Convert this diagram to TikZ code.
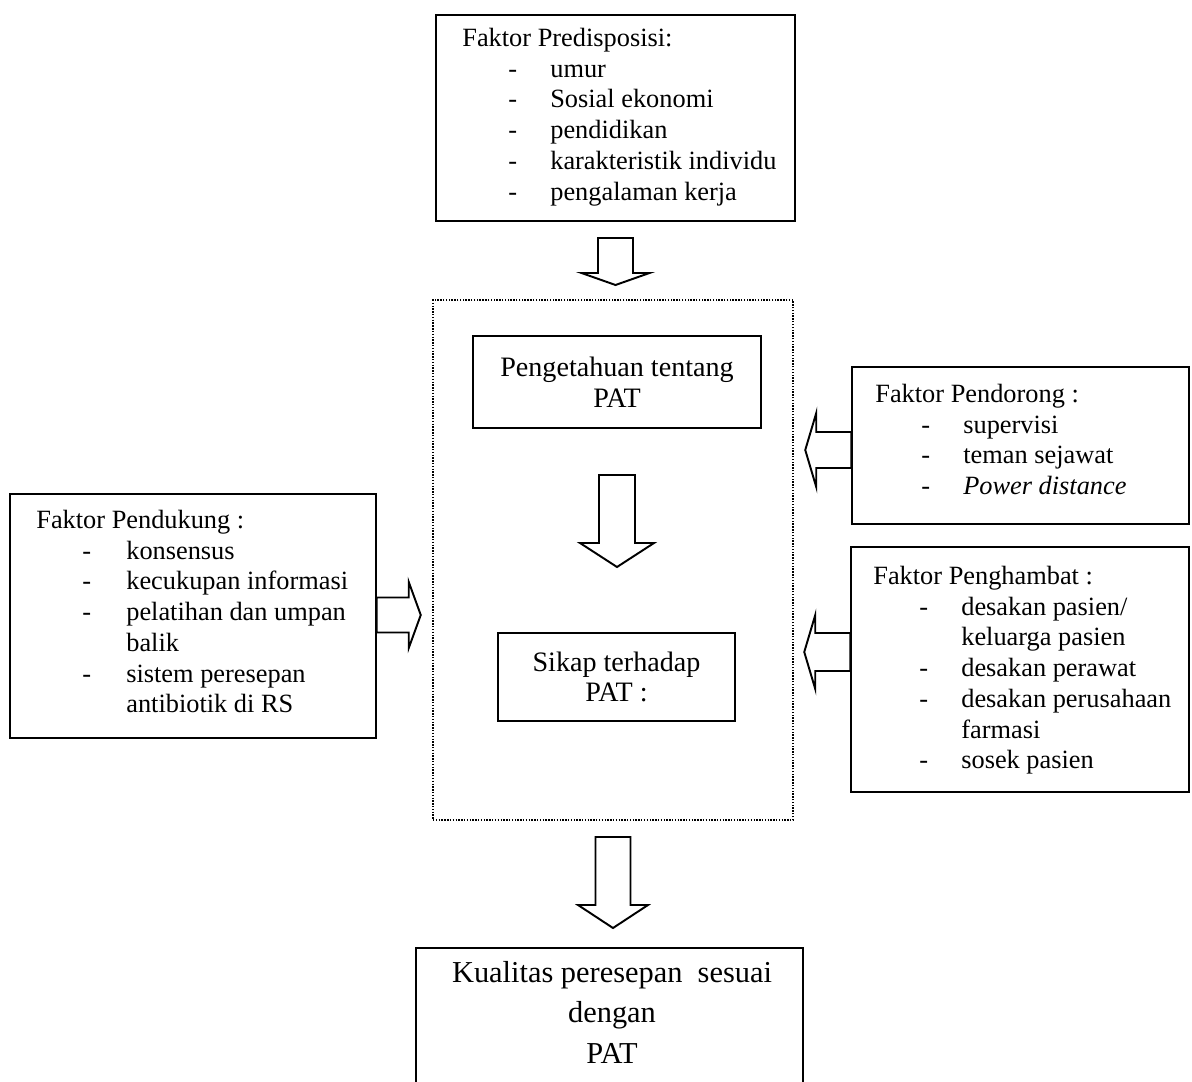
\documentclass[tikz,border=0pt]{standalone}
\usepackage{fontspec}
\setmainfont{Liberation Serif}
\usetikzlibrary{positioning}

\newcommand{\listfont}{\fontsize{15pt}{17.5pt}\selectfont}
\newcommand{\midfont}{\fontsize{16pt}{17.5pt}\selectfont}
\newcommand{\kualfont}{\fontsize{17.3pt}{23pt}\selectfont}

\tikzset{
  box/.style={rectangle, draw=black, line width=0.9pt, inner sep=0pt},
  dotbox/.style={rectangle, draw=black, line width=0.7pt, dash pattern=on 0.8pt off 0.8pt, inner sep=0pt},
  listtext/.style={anchor=north west, inner sep=0pt, font=\listfont},
  boxtext/.style={align=center, font=\midfont},
  hollow/.style={draw=black, line width=1.1pt, line join=miter},
}

% panah blok kosong: titik awal, sudut, panjang, panjang kepala, setengah batang, setengah kepala
\newcommand{\blockarrow}[6]{%
  \begin{scope}[shift={#1}, rotate=#2]
    \draw[hollow] (0,-#5) -- ({#3-#4},-#5) -- ({#3-#4},-#6) -- (#3,0) -- ({#3-#4},#6) -- ({#3-#4},#5) -- (0,#5) -- cycle;
  \end{scope}}

\begin{document}
\begin{tikzpicture}[x=0.02cm, y=-0.02cm]
\useasboundingbox (0,0) rectangle (1192,1081);

% kotak faktor
\node (pre) [box, minimum width=7.18cm, minimum height=4.12cm] at (615.5,118) {};
\node (pretext) [listtext] at (462,24.4) {\begin{tabular}{@{\hspace{0.92cm}}p{0.84cm}@{}l@{}}
\multicolumn{2}{@{}l@{}}{Faktor Predisposisi:}\\
- & umur\\
- & Sosial ekonomi\\
- & pendidikan\\
- & karakteristik individu\\
- & pengalaman kerja
\end{tabular}};

\node (pendorong) [box, minimum width=6.74cm, minimum height=3.14cm] at (1020.5,445.5) {};
\node (pendorongtext) [listtext] at (875,380.4) {\begin{tabular}{@{\hspace{0.92cm}}p{0.84cm}@{}l@{}}
\multicolumn{2}{@{}l@{}}{Faktor Pendorong :}\\
- & supervisi\\
- & teman sejawat\\
- & \textit{Power distance}
\end{tabular}};

\node (penghambat) [box, minimum width=6.76cm, minimum height=4.9cm] at (1020,669.5) {};
\node (penghambattext) [listtext] at (873,562.4) {\begin{tabular}{@{\hspace{0.92cm}}p{0.84cm}@{}l@{}}
\multicolumn{2}{@{}l@{}}{Faktor Penghambat :}\\
- & desakan pasien/\\
  & keluarga pasien\\
- & desakan perawat\\
- & desakan perusahaan\\
  & farmasi\\
- & sosek pasien
\end{tabular}};

\node (pendukung) [box, minimum width=7.32cm, minimum height=4.88cm] at (193,616) {};
\node (pendukungtext) [listtext] at (36,506.4) {\begin{tabular}{@{\hspace{0.92cm}}p{0.88cm}@{}l@{}}
\multicolumn{2}{@{}l@{}}{Faktor Pendukung :}\\
- & konsensus\\
- & kecukupan informasi\\
- & pelatihan dan umpan\\
  & balik\\
- & sistem peresepan\\
  & antibiotik di RS
\end{tabular}};

% kotak tengah
\node (tengah) [dotbox, minimum width=7.2cm, minimum height=10.4cm] at (613,560) {};
\node (pengetahuan) [box, boxtext, minimum width=5.76cm, minimum height=1.84cm] at (617,382) {Pengetahuan tentang\\PAT};
\node (sikap) [box, boxtext, minimum width=4.74cm, minimum height=1.76cm] at (616.5,677) {Sikap terhadap\\PAT :};

% hasil
\node (kualitas) [box, minimum width=7.74cm, minimum height=3.24cm] at (609.5,1029) {};
\node (kualitastext) [anchor=north, inner sep=0pt, align=center, font=\kualfont] at (612,961) {Kualitas peresepan\ \ sesuai\\dengan\\PAT};

% panah
\blockarrow{(pre.south |- 0,238)}{-90}{47}{12}{17.5}{34}
\blockarrow{(pengetahuan.south |- 0,475)}{-90}{92}{24}{18}{37}
\blockarrow{(tengah.south |- 0,837)}{-90}{91}{23}{17.5}{35}
\blockarrow{(pendorong.west |- 0,450)}{180}{46}{11}{18}{37}
\blockarrow{(penghambat.west |- 0,652)}{180}{46}{11}{19}{37}
\blockarrow{(pendukung.east |- 0,615)}{0}{44}{12}{17.5}{33}

\end{tikzpicture}
\end{document}
